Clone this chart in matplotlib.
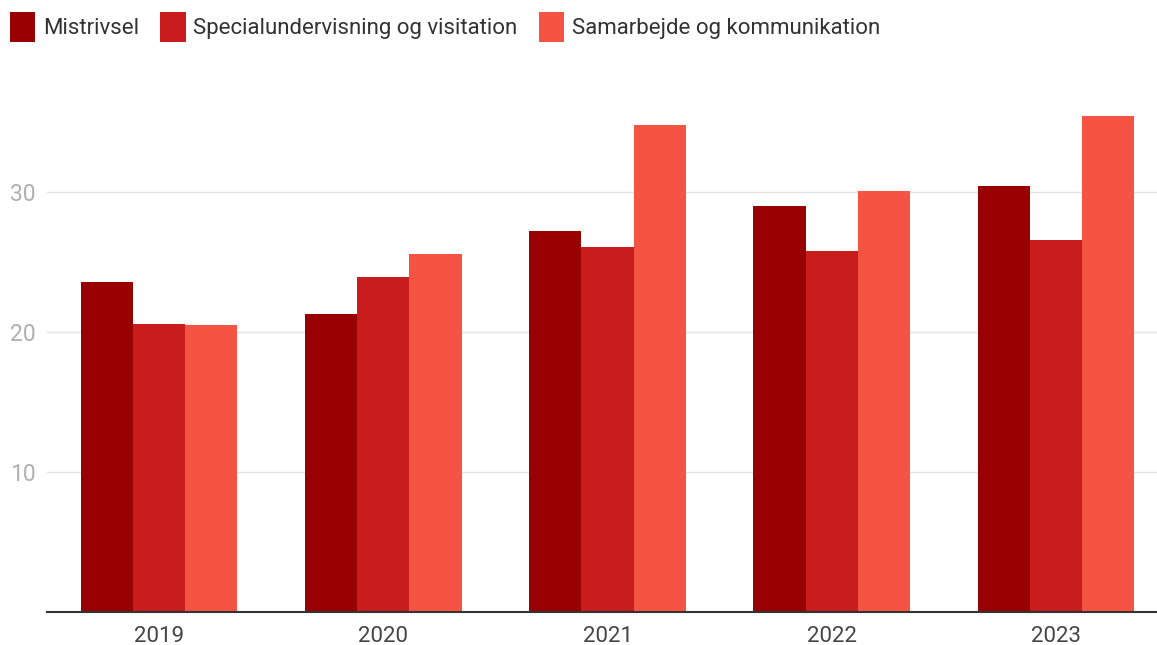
import matplotlib.pyplot as plt
import numpy as np

plt.rcParams['font.family'] = ['Roboto', 'DejaVu Sans']

# data
years = ['2019', '2020', '2021', '2022', '2023']
mistrivsel = [23.6, 21.3, 27.2, 29.0, 30.4]
special = [20.6, 23.9, 26.1, 25.8, 26.6]
samarbejde = [20.5, 25.6, 34.8, 30.1, 35.4]
series_names = ['Mistrivsel', 'Specialundervisning og visitation', 'Samarbejde og kommunikation']
colors = ['#990000', '#c91c1c', '#f55442']

fig = plt.figure(figsize=(11.57, 6.45), dpi=100)
ax = fig.add_axes([47 / 1157, 33 / 645, 1121 / 1157, 504 / 645])

x = np.arange(len(years))
w = 0.233
for i, (vals, name, c) in enumerate(zip([mistrivsel, special, samarbejde], series_names, colors)):
    ax.bar(x + (i - 1) * w, vals, width=w, color=c, label=name, zorder=2)

ax.set_xlim(-0.5, 4.5)
ax.set_ylim(0, 36)
ax.set_yticks([10, 20, 30])
ax.grid(axis='y', color='#e3e3e3', linewidth=1, zorder=0)
for s in ['top', 'right', 'left']:
    ax.spines[s].set_visible(False)
ax.spines['bottom'].set_color('#333333')
ax.spines['bottom'].set_linewidth(1.5)
ax.tick_params(axis='y', length=0, labelsize=16.5, labelcolor='#b0b0b0', pad=8)
ax.tick_params(axis='x', length=0, labelsize=16, labelcolor='#444444', pad=10)
ax.set_xticks(x)
ax.set_xticklabels(years)

fig.legend(loc='upper left', bbox_to_anchor=(-0.009, 1.012), ncol=3, frameon=False,
           fontsize=16, handlelength=1.15, handleheight=1.65, handletextpad=0.35,
           columnspacing=0.95, labelcolor='#333333')

fig.savefig('out.png', dpi=100)
